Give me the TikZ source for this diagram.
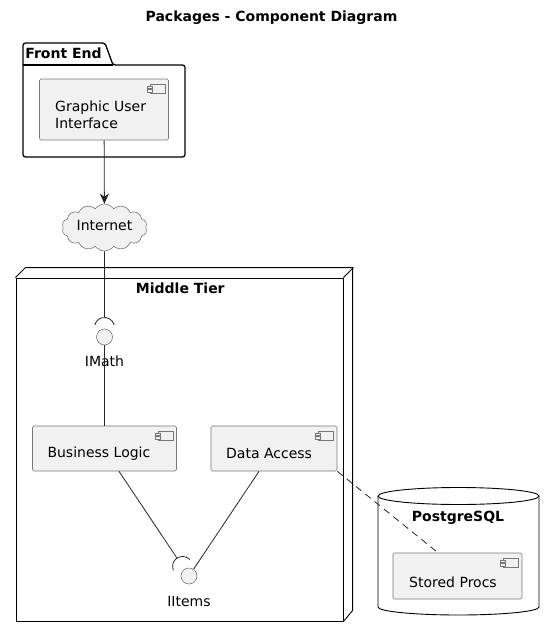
\documentclass[tikz,border=0pt]{standalone}
\usepackage{fontspec}
\setmainfont{DejaVu Sans}
\usepackage{tikz}
\usetikzlibrary{shapes.geometric, shapes.symbols, arrows.meta, positioning, calc}
\definecolor{compfill}{RGB}{241, 241, 241}
\definecolor{compline}{RGB}{120, 120, 120}
\newcommand{\compicon}[1]{%
    \draw[icon] ([shift={(-19,-5.5)}]#1.north east) rectangle ++(15,-9);
    \draw[icon] ([shift={(-22,-7.5)}]#1.north east) rectangle ++(5,-2.5);
    \draw[icon] ([shift={(-22,-11)}]#1.north east) rectangle ++(5,-2.5);
}

\begin{document}
\begin{tikzpicture}[
    x=1pt, y=1pt,
    comp/.style={rectangle, rounded corners=1.5pt, draw=compline, line width=0.6pt, fill=compfill, inner sep=0pt},
    comptext/.style={anchor=west, align=left, inner sep=0pt, font=\fontsize{14}{17}\selectfont},
    icon/.style={draw=compline, line width=0.5pt, fill=compfill},
    iface/.style={circle, draw=compline, line width=0.6pt, fill=compfill, minimum size=16pt, inner sep=0pt},
    lbl/.style={inner sep=0pt, font=\fontsize{14}{17}\selectfont},
    boldlbl/.style={inner sep=0pt, font=\fontsize{14}{17}\selectfont\bfseries},
    box/.style={draw=black, line width=0.9pt},
    pkg/.style={draw=black, line width=1.3pt, rounded corners=2.5pt},
    conn/.style={draw=black!85, line width=0.8pt},
    arrow/.style={conn, -{Stealth[length=10pt, width=9pt, inset=3pt]}}
]
    \useasboundingbox (0,0) rectangle (555,-637);

    \node[boldlbl] (title) at (271.5,-18) {Packages - Component Diagram};

    \draw[pkg] (23,-157) -- (23,-43) -- (105,-43) -- (113,-65) -- (185,-65) -- (185,-157) -- cycle;
    \draw[pkg] (23,-65) -- (113,-65);
    \node[boldlbl] (frontend) at (63.5,-53.5) {Front End};

    \node[comp, minimum width=129pt, minimum height=61pt] (gui) at (104,-109.5) {};
    \node[comptext] (guitext) at (55,-114.8) {Graphic User\\Interface};
    \compicon{gui}

    \node[cloud, cloud puffs=14, cloud puff arc=110, aspect=1.8, draw=compline, line width=0.6pt, fill=compfill, minimum width=85pt, minimum height=47pt, inner sep=0pt] (internet) at (104.5,-227.5) {};
    \node[lbl] (internettext) at (104.5,-225) {Internet};

    \node[box, minimum width=327pt, minimum height=343pt, inner sep=0pt] (tier) at (179.5,-449.5) {};
    \draw[box] (tier.north west) -- ++(10,10) -- ++(327,0) -- ++(0,-343) -- (tier.south east);
    \draw[box] (tier.north east) -- ++(10,10);
    \node[boldlbl] (tiertext) at (180.3,-288.5) {Middle Tier};

    \node[iface] (imath) at (104.5,-337) {};
    \node[lbl] (imathtext) at (104.5,-361) {IMath};
    \coordinate (imathsock) at (104.5,-327.5);
    \coordinate (imathtop) at (104.5,-317.5);

    \node[comp, minimum width=144pt, minimum height=45pt] (logic) at (104.5,-448.5) {};
    \node[comptext] (logictext) at (47.3,-453.5) {Business Logic};
    \compicon{logic}

    \node[comp, minimum width=126pt, minimum height=45pt] (access) at (274,-448.5) {};
    \node[comptext] (accesstext) at (226,-453.5) {Data Access};
    \compicon{access}

    \node[iface] (iitems) at (189,-576) {};
    \node[lbl] (iitemstext) at (189,-601) {IItems};
    \coordinate (iitemssock) at (182.6,-566.4);
    \coordinate (iitemstop) at (177,-558.1);

    \draw[box] (458.5,-496) ellipse [x radius=80.5, y radius=8.5];
    \draw[box] (378,-496) -- (378,-607) arc[start angle=180, end angle=360, x radius=80.5, y radius=8] -- (539,-496);
    \node[boldlbl] (pgtext) at (458,-517.5) {PostgreSQL};

    \node[comp, minimum width=129pt, minimum height=46pt] (procs) at (457.5,-576) {};
    \node[comptext] (procstext) at (409,-582) {Stored Procs};
    \compicon{procs}

    \draw[arrow] (gui) -- (internet);
    \draw[conn] (internet) -- (imathtop);
    \draw[conn] ([shift={(15:10)}]imathsock) arc[start angle=15, end angle=165, radius=10];
    \draw[conn] (imath) -- (logic);
    \draw[conn] ([xshift=14.5pt]logic.south) -- (iitemstop);
    \draw[conn] ([shift={(43.7:10)}]iitemssock) arc[start angle=43.7, end angle=203.7, radius=10];
    \draw[conn] ([xshift=-15pt]access.south) -- (iitems);
    \draw[conn, dash pattern=on 7pt off 5pt] (access.south east) -- ([xshift=-19.5pt]procs.north);
\end{tikzpicture}
\end{document}
